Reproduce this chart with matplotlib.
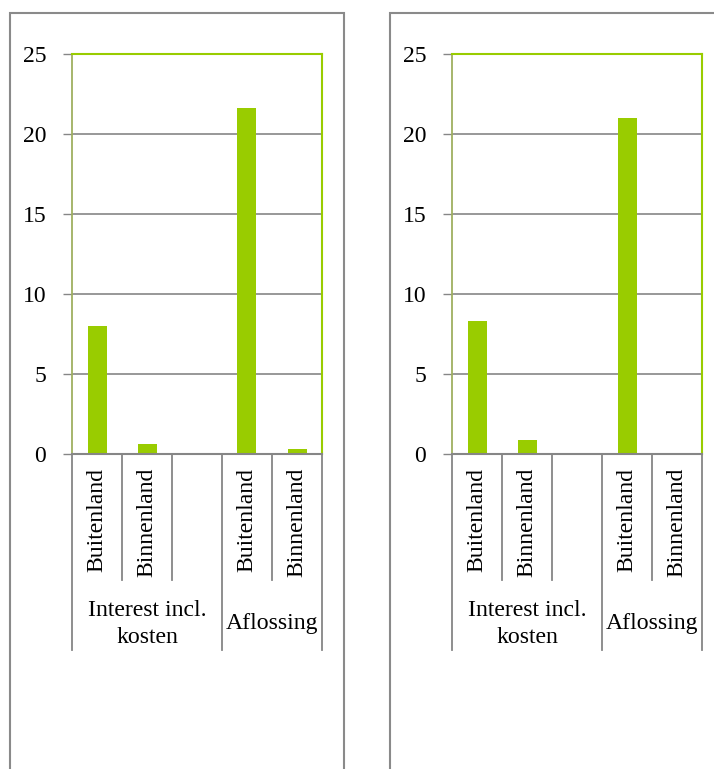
import numpy as np
import matplotlib
matplotlib.use('Agg')
import matplotlib.pyplot as plt
from matplotlib.patches import Rectangle
from matplotlib.transforms import blended_transform_factory

plt.rcParams['font.family'] = ['Liberation Serif', 'DejaVu Serif']

sub_labels = ['Buitenland', 'Binnenland', '', 'Buitenland', 'Binnenland']
groups = ['Interest incl.\nkosten', 'Aflossing']
group_spans = [(0, 3), (3, 5)]   # slot ranges for each group
left_values = [8.0, 0.6, 0, 21.6, 0.3]
right_values = [8.3, 0.85, 0, 21.0, 0]
yticks = [0, 5, 10, 15, 20, 25]

green = '#99cc00'
grey = '#868686'
W, H = 714, 769
fs = 17.1

fig = plt.figure(figsize=(W / 100, H / 100), dpi=100)

# outer chart borders (bottom and right run off the picture)
for x0 in (10, 390):
    fig.patches.append(Rectangle((x0 / W, -0.2), 334 / W, 1.2 - 12.5 / H,
                                 transform=fig.transFigure, fill=False,
                                 edgecolor='#8a8a8a', lw=1.5, clip_on=False))


def panel(x_axis_px, values):
    ax = fig.add_axes([x_axis_px / W, (H - 454) / H, 250 / W, 400 / H])
    x = np.arange(len(values))
    ax.bar(x, values, width=0.38, color=green, zorder=3)
    ax.set_xlim(-0.5, len(values) - 0.5)
    ax.set_ylim(0, 25)
    ax.set_yticks(yticks)
    ax.tick_params(axis='y', direction='out', length=6.5, width=1, color=grey,
                   pad=12, labelsize=fs)
    ax.set_xticks([])
    ax.yaxis.grid(True, color=grey, lw=1.2, zorder=1)
    for s in ('top', 'right'):
        ax.spines[s].set_color(green)
        ax.spines[s].set_linewidth(1.5)
    ax.spines['left'].set_color('#9fb060')
    ax.spines['left'].set_linewidth(1.3)
    ax.spines['bottom'].set_color(grey)
    ax.spines['bottom'].set_linewidth(1.5)
    ax.spines['bottom'].set_zorder(4)

    tr = blended_transform_factory(ax.transData, ax.transAxes)
    # category separators
    for b in np.arange(len(values) + 1) - 0.5:
        is_group_edge = any(b == s - 0.5 or b == e - 0.5 for s, e in group_spans)
        bottom = -0.49 if is_group_edge else -0.315
        ax.plot([b, b], [0, bottom], transform=tr, color=grey, lw=1.3,
                clip_on=False)
    for xi, lab in zip(x, sub_labels):
        ax.text(xi, -0.035, lab, transform=tr, rotation=90, ha='center',
                va='top', fontsize=fs)
    for lab, (s, e) in zip(groups, group_spans):
        ax.text((s + e - 1) / 2, -0.425, lab, transform=tr, ha='center',
                va='center', fontsize=fs, linespacing=1.4)
    return ax


panel(72, left_values)
panel(452, right_values)

fig.savefig('out.png', dpi=100)
